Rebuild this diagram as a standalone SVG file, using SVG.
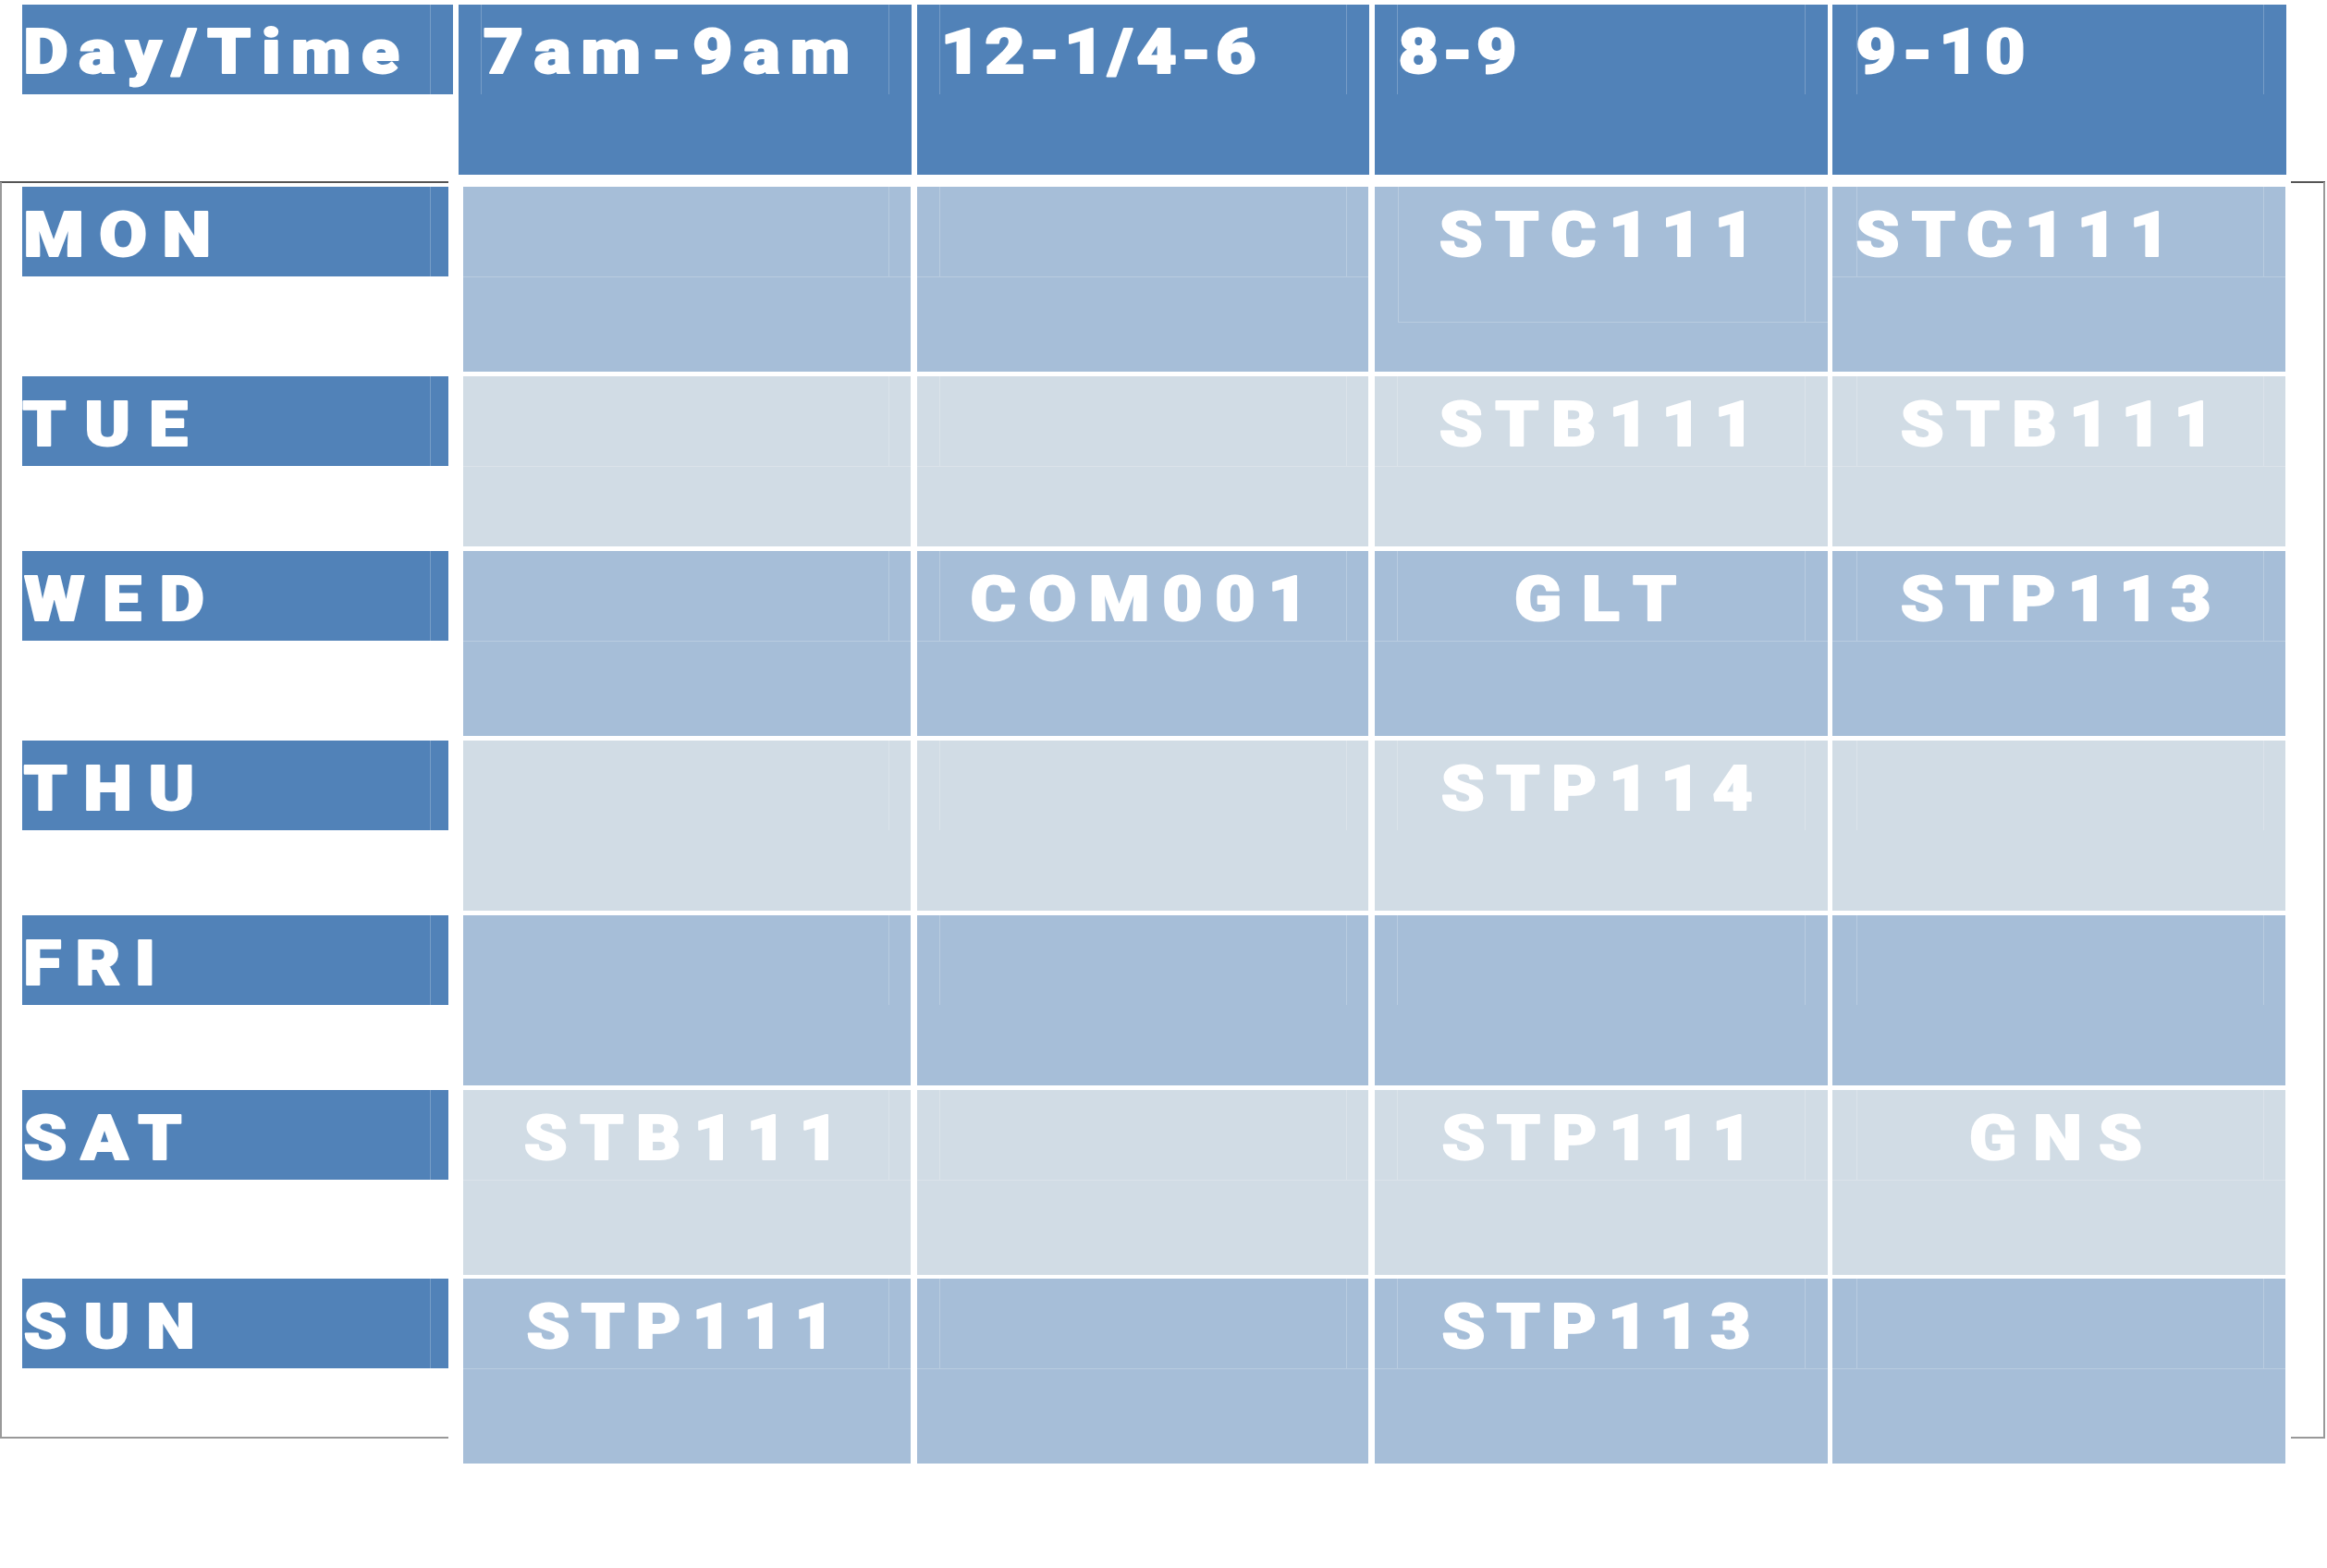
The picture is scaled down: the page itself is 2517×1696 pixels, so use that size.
<svg xmlns="http://www.w3.org/2000/svg" width="2517" height="1696" viewBox="0 0 2517 1696">
<style>
.hdr{fill:#5182B8}
.dk{fill:#A6BED8}
.lt{fill:#D1DCE5}
.fl{fill:none;stroke:#fff;stroke-opacity:.22;stroke-width:1}
.t{font-family:Roboto,Inter,"Liberation Sans",Arial,sans-serif;font-weight:900;font-size:67px;fill:#fff;stroke:#fff;stroke-width:2;stroke-linejoin:round;transform:scale(1.12,1);transform-origin:0 0}
.fr{fill:none;stroke-width:2}
</style>
<rect width="2517" height="1696" fill="#fff"/>

<g id="frame">
<path class="fr" stroke="#555" d="M0 197H485M2478 197H2515"/>
<path class="fr" stroke="#999" d="M1 197V1555H485M2514 197V1555H2478"/>
</g>

<g id="hdr-daytime"><rect class="hdr" x="24" y="5" width="466" height="97"/><path class="fl" d="M465.5 5V102"/><text class="t" x="22.5" y="79" textLength="363.21" lengthAdjust="spacing">Day/Time</text></g>
<g id="hdr-c1"><rect class="hdr" x="496" y="5" width="490" height="184"/><path class="fl" d="M520.5 5V102M961.5 5V102"/><text class="t" x="466.8" y="79" textLength="354.11" lengthAdjust="spacing">7am-9am</text></g>
<g id="hdr-c2"><rect class="hdr" x="992" y="5" width="489" height="184"/><path class="fl" d="M1016.5 5V102M1456.5 5V102"/><text class="t" x="908.4" y="79" textLength="304.64" lengthAdjust="spacing">12-1/4-6</text></g>
<g id="hdr-c3"><rect class="hdr" x="1487" y="5" width="490" height="184"/><path class="fl" d="M1511.5 5V102M1952.5 5V102"/><text class="t" x="1350.55" y="79" textLength="114.2" lengthAdjust="spacing">8-9</text></g>
<g id="hdr-c4"><rect class="hdr" x="1982" y="5" width="491" height="184"/><path class="fl" d="M2008.5 5V102M2448.5 5V102"/><text class="t" x="1792.5" y="79" textLength="163.3" lengthAdjust="spacing">9-10</text></g>

<g id="mon-label"><rect class="hdr" x="24" y="202" width="461" height="97"/><path class="fl" d="M465.5 202V299"/><text class="t" x="22.5" y="277" textLength="181.16" lengthAdjust="spacing">MON</text></g>
<g id="mon-c1"><rect class="dk" x="501" y="202" width="484" height="200"/><path class="fl" d="M961.5 202V299M501 299.5H985"/></g>
<g id="mon-c2"><rect class="dk" x="992" y="202" width="488" height="200"/><path class="fl" d="M1016.5 202V299M1456.5 202V299M992 299.5H1480"/></g>
<g id="mon-c3"><rect class="dk" x="1487" y="202" width="490" height="200"/><path class="fl" d="M1512.5 202V348.5H1977M1952.5 202V348"/><text class="t" x="1389.85" y="277" textLength="304.55" lengthAdjust="spacing">STC111</text></g>
<g id="mon-c4"><rect class="dk" x="1982" y="202" width="490" height="200"/><path class="fl" d="M2008.5 202V299M2448.5 202V299M1982 299.5H2472"/><text class="t" x="1792.5" y="277" textLength="302.77" lengthAdjust="spacing">STC111</text></g>

<g id="tue-label"><rect class="hdr" x="24" y="407" width="461" height="97"/><path class="fl" d="M465.5 407V504"/><text class="t" x="21.55" y="482" textLength="159.73" lengthAdjust="spacing">TUE</text></g>
<g id="tue-c1"><rect class="lt" x="501" y="407" width="484" height="184"/><path class="fl" d="M961.5 407V504M501 504.5H985"/></g>
<g id="tue-c2"><rect class="lt" x="992" y="407" width="488" height="184"/><path class="fl" d="M1016.5 407V504M1456.5 407V504M992 504.5H1480"/></g>
<g id="tue-c3"><rect class="lt" x="1487" y="407" width="490" height="184"/><path class="fl" d="M1511.5 407V504M1952.5 407V504M1487 504.5H1977"/><text class="t" x="1389.85" y="482" textLength="304.55" lengthAdjust="spacing">STB111</text></g>
<g id="tue-c4"><rect class="lt" x="1982" y="407" width="490" height="184"/><path class="fl" d="M2008.5 407V504M2448.5 407V504M1982 504.5H2472"/><text class="t" x="1835.4" y="482" textLength="302.77" lengthAdjust="spacing">STB111</text></g>

<g id="wed-label"><rect class="hdr" x="24" y="596" width="461" height="97"/><path class="fl" d="M465.5 596V693"/><text class="t" x="23.35" y="671" textLength="174.02" lengthAdjust="spacing">WED</text></g>
<g id="wed-c1"><rect class="dk" x="501" y="596" width="484" height="200"/><path class="fl" d="M961.5 596V693M501 693.5H985"/></g>
<g id="wed-c2"><rect class="dk" x="992" y="596" width="488" height="200"/><path class="fl" d="M1016.5 596V693M1456.5 596V693M992 693.5H1480"/><text class="t" x="937.2" y="671" textLength="326.07" lengthAdjust="spacing">COM001</text></g>
<g id="wed-c3"><rect class="dk" x="1487" y="596" width="490" height="200"/><path class="fl" d="M1511.5 596V693M1952.5 596V693M1487 693.5H1977"/><text class="t" x="1462.45" y="671" textLength="156.52" lengthAdjust="spacing">GLT</text></g>
<g id="wed-c4"><rect class="dk" x="1982" y="596" width="490" height="200"/><path class="fl" d="M2008.5 596V693M2448.5 596V693M1982 693.5H2472"/><text class="t" x="1835.4" y="671" textLength="299.91" lengthAdjust="spacing">STP113</text></g>

<g id="thu-label"><rect class="hdr" x="24" y="801" width="461" height="97"/><path class="fl" d="M465.5 801V898"/><text class="t" x="22.8" y="876" textLength="165" lengthAdjust="spacing">THU</text></g>
<g id="thu-c1"><rect class="lt" x="501" y="801" width="484" height="184"/><path class="fl" d="M961.5 801V898"/></g>
<g id="thu-c2"><rect class="lt" x="992" y="801" width="488" height="184"/><path class="fl" d="M1016.5 801V898M1456.5 801V898"/></g>
<g id="thu-c3"><rect class="lt" x="1487" y="801" width="490" height="184"/><path class="fl" d="M1511.5 801V898M1952.5 801V898"/><text class="t" x="1391.65" y="876" textLength="301.07" lengthAdjust="spacing">STP114</text></g>
<g id="thu-c4"><rect class="lt" x="1982" y="801" width="490" height="184"/><path class="fl" d="M2008.5 801V898M2448.5 801V898"/></g>

<g id="fri-label"><rect class="hdr" x="24" y="990" width="461" height="97"/><path class="fl" d="M465.5 990V1087"/><text class="t" x="22.5" y="1065" textLength="127.68" lengthAdjust="spacing">FRI</text></g>
<g id="fri-c1"><rect class="dk" x="501" y="990" width="484" height="184"/><path class="fl" d="M961.5 990V1087"/></g>
<g id="fri-c2"><rect class="dk" x="992" y="990" width="488" height="184"/><path class="fl" d="M1016.5 990V1087M1456.5 990V1087"/></g>
<g id="fri-c3"><rect class="dk" x="1487" y="990" width="490" height="184"/><path class="fl" d="M1511.5 990V1087M1952.5 990V1087"/></g>
<g id="fri-c4"><rect class="dk" x="1982" y="990" width="490" height="184"/><path class="fl" d="M2008.5 990V1087M2448.5 990V1087"/></g>

<g id="sat-label"><rect class="hdr" x="24" y="1179" width="461" height="97"/><path class="fl" d="M465.5 1179V1276"/><text class="t" x="22.8" y="1254" textLength="152.77" lengthAdjust="spacing">SAT</text></g>
<g id="sat-c1"><rect class="lt" x="501" y="1179" width="484" height="200"/><path class="fl" d="M961.5 1179V1276M501 1276.5H985"/><text class="t" x="505.95" y="1254" textLength="304.55" lengthAdjust="spacing">STB111</text></g>
<g id="sat-c2"><rect class="lt" x="992" y="1179" width="488" height="200"/><path class="fl" d="M1016.5 1179V1276M1456.5 1179V1276M992 1276.5H1480"/></g>
<g id="sat-c3"><rect class="lt" x="1487" y="1179" width="490" height="200"/><path class="fl" d="M1511.5 1179V1276M1952.5 1179V1276M1487 1276.5H1977"/><text class="t" x="1392.35" y="1254" textLength="299.82" lengthAdjust="spacing">STP111</text></g>
<g id="sat-c4"><rect class="lt" x="1982" y="1179" width="490" height="200"/><path class="fl" d="M2008.5 1179V1276M2448.5 1179V1276M1982 1276.5H2472"/><text class="t" x="1901.7" y="1254" textLength="167.05" lengthAdjust="spacing">GNS</text></g>

<g id="sun-label"><rect class="hdr" x="24" y="1383" width="461" height="97"/><path class="fl" d="M465.5 1383V1480"/><text class="t" x="22.8" y="1458" textLength="165.63" lengthAdjust="spacing">SUN</text></g>
<g id="sun-c1"><rect class="dk" x="501" y="1383" width="484" height="200"/><path class="fl" d="M961.5 1383V1480M501 1480.5H985"/><text class="t" x="508.6" y="1458" textLength="297.41" lengthAdjust="spacing">STP111</text></g>
<g id="sun-c2"><rect class="dk" x="992" y="1383" width="488" height="200"/><path class="fl" d="M1016.5 1383V1480M1456.5 1383V1480M992 1480.5H1480"/></g>
<g id="sun-c3"><rect class="dk" x="1487" y="1383" width="490" height="200"/><path class="fl" d="M1511.5 1383V1480M1952.5 1383V1480M1487 1480.5H1977"/><text class="t" x="1392.5" y="1458" textLength="298.13" lengthAdjust="spacing">STP113</text></g>
<g id="sun-c4"><rect class="dk" x="1982" y="1383" width="490" height="200"/><path class="fl" d="M2008.5 1383V1480M2448.5 1383V1480M1982 1480.5H2472"/></g>
</svg>
